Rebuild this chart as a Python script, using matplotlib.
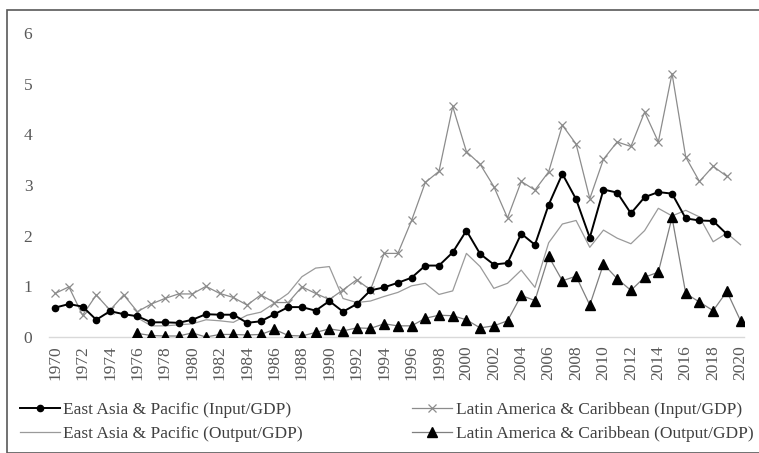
import numpy as np
import matplotlib
matplotlib.use("Agg")
import matplotlib.pyplot as plt
from matplotlib.patches import Rectangle

years = list(range(1970, 2021))
nan = np.nan

eap_input = [0.58, 0.65, 0.60, 0.34, 0.51, 0.45, 0.41, 0.29, 0.29, 0.28,
             0.34, 0.45, 0.44, 0.44, 0.28, 0.31, 0.45, 0.59, 0.59, 0.52,
             0.71, 0.50, 0.65, 0.92, 0.98, 1.07, 1.17, 1.41, 1.41, 1.67,
             2.10, 1.64, 1.43, 1.46, 2.04, 1.82, 2.61, 3.22, 2.72, 1.96,
             2.91, 2.85, 2.44, 2.76, 2.86, 2.83, 2.34, 2.30, 2.29, 2.03, nan]

lac_input = [0.86, 0.99, 0.43, 0.83, 0.53, 0.83, 0.50, 0.65, 0.76, 0.85,
             0.85, 1.00, 0.86, 0.78, 0.63, 0.83, 0.68, 0.68, 0.99, 0.86,
             0.74, 0.93, 1.13, 0.93, 1.65, 1.65, 2.30, 3.05, 3.27, 4.55,
             3.66, 3.41, 2.97, 2.35, 3.07, 2.90, 3.26, 4.18, 3.81, 2.73,
             3.51, 3.85, 3.76, 4.44, 3.85, 5.20, 3.55, 3.07, 3.37, 3.17, nan]

eap_output = [nan, nan, nan, nan, nan, nan, 0.38, 0.22, 0.22, 0.24,
              0.26, 0.34, 0.32, 0.29, 0.43, 0.49, 0.67, 0.86, 1.19, 1.36,
              1.39, 0.76, 0.68, 0.71, 0.80, 0.88, 1.01, 1.06, 0.84, 0.91,
              1.65, 1.39, 0.96, 1.06, 1.32, 0.98, 1.86, 2.23, 2.30, 1.77,
              2.11, 1.95, 1.84, 2.10, 2.54, 2.39, 2.50, 2.37, 1.88, 2.05, 1.82]

lac_output = [nan, nan, nan, nan, nan, nan, 0.07, 0.03, 0.02, 0.02,
              0.08, 0.00, 0.05, 0.05, 0.04, 0.05, 0.15, 0.03, 0.02, 0.09,
              0.16, 0.12, 0.18, 0.17, 0.26, 0.22, 0.22, 0.37, 0.43, 0.42,
              0.34, 0.18, 0.22, 0.32, 0.82, 0.72, 1.59, 1.11, 1.20, 0.63,
              1.44, 1.15, 0.92, 1.18, 1.28, 2.36, 0.86, 0.69, 0.52, 0.90, 0.32]

labels = ["East Asia & Pacific (Input/GDP)",
          "Latin America & Caribbean (Input/GDP)",
          "East Asia & Pacific (Output/GDP)",
          "Latin America & Caribbean (Output/GDP)"]

plt.rcParams['font.family'] = ['Liberation Serif', 'DejaVu Serif']

W, H = 759, 453
fig = plt.figure(figsize=(W / 100, H / 100), dpi=100)
ax = fig.add_axes([49 / W, (H - 337) / H, (744 - 49) / W, (337 - 33) / H])

x = np.array(years)
ax.plot(x, eap_input, color='black', lw=1.4, marker='o', ms=4.5, label=labels[0], zorder=5)
ax.plot(x, lac_input, color='#8c8c8c', lw=0.9, marker='x', ms=6, mew=0.9, label=labels[1], zorder=4)
ax.plot(x, eap_output, color='#9a9a9a', lw=0.9, label=labels[2], zorder=3)
ax.plot(x, lac_output, color='#7f7f7f', lw=0.9, marker='^', ms=6.5, mfc='black', mec='black',
        label=labels[3], zorder=4)

ax.set_xlim(1969.55, 2020.25)
ax.set_ylim(0, 6)
ax.set_yticks(range(0, 7))
ax.set_xticks(years[::2])
ax.set_xticklabels([str(y) for y in years[::2]], rotation=90)
ax.tick_params(axis='both', length=0, labelsize=12.5, colors='#595959')
ax.tick_params(axis='y', pad=12)
ax.tick_params(axis='x', pad=6)
for s in ['top', 'right', 'left']:
    ax.spines[s].set_visible(False)
ax.spines['bottom'].set_color('#d9d9d9')
ax.spines['bottom'].set_linewidth(1.0)

handles, labs = ax.get_legend_handles_labels()
order = [0, 2, 1, 3]
leg = fig.legend([handles[i] for i in order], [labs[i] for i in order], ncol=2,
                 loc='upper left', bbox_to_anchor=(20 / W, 1 - 402 / H), frameon=False,
                 fontsize=12.5, handlelength=2.3, handletextpad=0.2, columnspacing=6.3,
                 labelspacing=0.42, borderaxespad=0, borderpad=0)
for t in leg.get_texts():
    t.set_color('#404040')

fig.patches.append(Rectangle((7 / W, 0), (W - 6) / W, 1 - 10 / H, transform=fig.transFigure,
                             fill=False, edgecolor='#595959', lw=1.2))

fig.savefig('out.png', dpi=100)
